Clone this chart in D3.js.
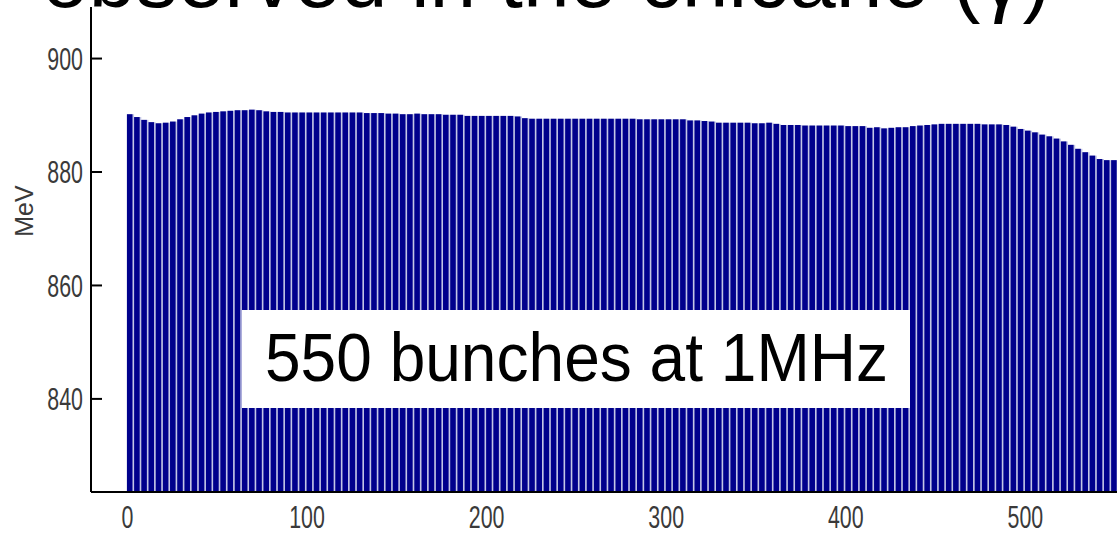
<!DOCTYPE html>
<html>
<head>
<meta charset="utf-8">
<script src="https://cdn.jsdelivr.net/npm/d3@7"></script>
<style>
  html, body { margin: 0; padding: 0; background: #fff; overflow: hidden; }
  svg { display: block; }
</style>
</head>
<body>
<div id="chart"></div>
<script>
// energy of every 4th bunch (MeV)
var energy = [
  890.1, 889.6, 889.1, 888.7, 888.5, 888.6, 888.8, 889.2, 889.6, 889.9,
  890.2, 890.4, 890.5, 890.6, 890.7, 890.8, 890.8, 890.9, 890.8, 890.6,
  890.5, 890.5, 890.4, 890.4, 890.4, 890.4, 890.4, 890.4, 890.4, 890.4,
  890.4, 890.4, 890.4, 890.3, 890.3, 890.3, 890.2, 890.2, 890.1, 890.1,
  890.2, 890.1, 890.1, 890.1, 890.0, 890.0, 890.0, 889.8, 889.8, 889.8,
  889.8, 889.8, 889.8, 889.8, 889.7, 889.4, 889.3, 889.3, 889.3, 889.3,
  889.3, 889.3, 889.3, 889.3, 889.3, 889.3, 889.3, 889.3, 889.3, 889.3,
  889.3, 889.2, 889.2, 889.2, 889.2, 889.2, 889.2, 889.2, 889.0, 889.0,
  888.9, 888.8, 888.6, 888.6, 888.6, 888.6, 888.6, 888.5, 888.5, 888.6,
  888.4, 888.2, 888.2, 888.2, 888.1, 888.1, 888.1, 888.1, 888.1, 888.1,
  888.0, 888.0, 888.0, 887.7, 887.8, 887.6, 887.7, 887.8, 887.8, 888.0,
  888.1, 888.2, 888.3, 888.4, 888.4, 888.4, 888.4, 888.4, 888.4, 888.3,
  888.3, 888.3, 888.2, 887.9, 887.5, 887.2, 886.9, 886.5, 886.2, 885.8,
  885.3, 884.7, 884.0, 883.4, 882.8, 882.2, 882.0, 882.0
];
var bunchStep = 4;
var bunches = d3.range(0, energy.length * bunchStep, bunchStep);

var yTicks = [840, 860, 880, 900];
var xTicks = [0, 100, 200, 300, 400, 500];
var yLabel = "MeV";
var boxText = "550 bunches at 1MHz";
var titleText = "observed in the chicane (\u03b3)";

var W = 1117, H = 535;
var svg = d3.select("#chart").append("svg")
    .attr("width", W)
    .attr("height", H);

var x = d3.scaleLinear().domain([-20, 570]).range([91, 91 + 590 * 1.796]);
var y = d3.scaleLinear().domain([823.5, 909]).range([492, 7]);
var step = x(bunchStep) - x(0);

// gaps between bars (light lavender seen in the picture)
svg.selectAll(".barBack")
    .data(bunches)
    .enter()
    .append("rect")
    .attr("class", "barBack")
    .attr("x", function(d) { return x(d); })
    .attr("y", function(d, i) { return y(energy[i]); })
    .attr("width", step)
    .attr("height", function(d, i) { return y.range()[0] - y(energy[i]); })
    .attr("fill", "#c3c6e6");

svg.selectAll(".bar")
    .data(bunches)
    .enter()
    .append("rect")
    .attr("class", "bar")
    .attr("x", function(d) { return x(d); })
    .attr("y", function(d, i) { return y(energy[i]); })
    .attr("width", step - 1.6)
    .attr("height", function(d, i) { return y.range()[0] - y(energy[i]); })
    .attr("fill", "#00008c");

// axes
var yAxis = d3.axisLeft(y).tickValues(yTicks).tickSize(-11).tickPadding(8).tickFormat(d3.format("d"));
var xAxis = d3.axisBottom(x).tickValues(xTicks).tickSize(0).tickPadding(14).tickFormat(d3.format("d"));

var gy = svg.append("g").attr("transform", "translate(91,0)").call(yAxis);
var gx = svg.append("g").attr("transform", "translate(0,492)").call(xAxis);

[gy, gx].forEach(function(g) {
    g.select(".domain").attr("stroke", "#000").attr("stroke-width", 2);
    g.selectAll(".tick line").attr("stroke", "#000").attr("stroke-width", 2);
    g.selectAll(".tick text")
        .attr("font-family", "Liberation Sans, Arial, sans-serif")
        .attr("font-size", 31)
        .attr("fill", "#3a3a3a");
});
gy.select(".domain").attr("d", "M0," + y.range()[1] + "V" + y.range()[0]);
gx.select(".domain").attr("d", "M" + x.range()[0] + ",0H" + W);

// narrow tick labels
gy.selectAll(".tick text")
    .attr("x", null)
    .attr("dy", "0.36em")
    .attr("transform", "translate(-8,0) scale(0.69,1)");
gx.selectAll(".tick text")
    .attr("dy", "0.71em")
    .attr("transform", "scale(0.69,1)");

svg.append("text")
    .attr("transform", "translate(33,211) rotate(-90)")
    .attr("text-anchor", "middle")
    .attr("font-family", "Liberation Sans, Arial, sans-serif")
    .attr("font-size", 25)
    .attr("fill", "#3a3a3a")
    .text(yLabel);

// label box
svg.append("rect")
    .attr("x", 242).attr("y", 310)
    .attr("width", 668).attr("height", 98)
    .attr("fill", "#fff");
svg.append("text")
    .attr("x", 265).attr("y", 381)
    .attr("font-family", "Liberation Sans, Arial, sans-serif")
    .attr("font-size", 68)
    .attr("textLength", 623)
    .attr("lengthAdjust", "spacingAndGlyphs")
    .attr("fill", "#000")
    .text(boxText);

// slide title, cut off at the top
svg.append("text")
    .attr("x", 42).attr("y", 7)
    .attr("font-family", "Liberation Sans, Arial, sans-serif")
    .attr("font-size", 84)
    .attr("fill", "#000")
    .text(titleText);
</script>
</body>
</html>
